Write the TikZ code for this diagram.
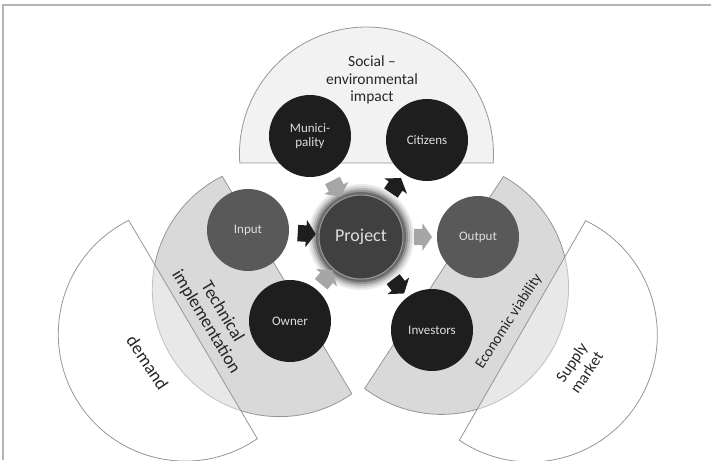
\documentclass[tikz,border=0pt]{standalone}
\usepackage{fontspec}
\setmainfont{Carlito}
\usepackage{tikz}
\usetikzlibrary{shapes.arrows, positioning, calc}
\definecolor{myframe}{RGB}{180,180,180}
\definecolor{myedge}{RGB}{150,150,150}
\definecolor{mydark}{RGB}{30,30,30}
\definecolor{mymid}{RGB}{89,89,89}
\definecolor{myproj}{RGB}{64,64,64}
\definecolor{mylight}{RGB}{222,222,222}
\definecolor{mytext}{RGB}{38,38,38}
\definecolor{hdrtop}{RGB}{242,242,242}
\definecolor{hdrgrey}{RGB}{217,217,217}
\definecolor{mygreyarrow}{RGB}{166,166,166}
\newcommand{\halfdisk}[4]{%
  \begin{scope}[shift={(#1,#2)}, rotate=#3]
    \draw[disk, #4] (126.7,0) arc[start angle=-4.06, end angle=184.06, radius=127] -- cycle;
  \end{scope}}
\newcommand{\shaft}{\rule{0pt}{16pt}}
\tikzset{
  disk/.style={draw=myedge, line width=0.8pt},
  actor/.style={circle, fill=mydark, minimum size=82pt, inner sep=0pt,
    text=mylight, align=center, font=\fontsize{13}{14}\selectfont},
  flow/.style={actor, fill=mymid},
  core/.style={circle, fill=myproj, draw=gray!80, line width=1pt, minimum size=84pt,
    inner sep=0pt, text=mylight, font=\fontsize{18}{20}\selectfont},
  blockarrow/.style={single arrow, fill=mydark, minimum width=27pt, minimum height=18pt,
    single arrow head extend=5.5pt, single arrow tip angle=110, inner sep=0pt, sloped},
  greyarrow/.style={blockarrow, fill=mygreyarrow},
  area/.style={text=mytext, align=center}
}

\begin{document}
\begin{tikzpicture}[x=1pt, y=-1pt]
  \useasboundingbox (0,0) rectangle (711,460);
  \draw[myframe, line width=1.3pt] (711,5) -- (3,5) -- (3,460);

  % the five half disks
  \halfdisk{366.5}{163}{180}{fill=hdrtop}
  \halfdisk{287}{285}{300.8}{fill=hdrgrey}
  \halfdisk{434}{282.5}{56.8}{fill=hdrgrey}
  \halfdisk{193}{329.5}{300.5}{fill=white, fill opacity=0.4}
  \halfdisk{522.5}{330.5}{60.1}{fill=white, fill opacity=0.4}

  % Project with its glow
  \coordinate (projc) at (361,237);
  \foreach \r/\g in {53/8, 51/16, 49/28, 47/42, 45/58}
    \fill[black!\g] (projc) circle (\r);
  \node[core] (project) at (projc) {Project};

  % circles round it
  \node[actor] (municipality) at (310,136) {Munici-\\pality};
  \node[actor] (citizens) at (427,140) {Citizens};
  \node[flow] (input) at (248,230) {Input};
  \node[flow] (output) at (478,237) {Output};
  \node[actor] (owner) at (290,321) {Owner};
  \node[actor] (investors) at (432,330) {Investors};

  % block arrows
  \path (input) -- node[blockarrow] {\shaft} (project);
  \path (project) -- node[greyarrow] {\shaft} (output);
  \path (municipality) -- node[greyarrow] {\shaft} (project);
  \path (project) -- node[blockarrow] {\shaft} (citizens);
  \path (owner) -- node[greyarrow] {\shaft} (project);
  \path (project) -- node[blockarrow] {\shaft} (investors);

  % area labels
  \node[area, font=\fontsize{15.5}{17.5}\selectfont] (social) at (372,80) {Social –\\environmental\\impact};
  \node[area, rotate=-59, font=\fontsize{18}{19}\selectfont] (technical) at (214,317) {Technical\\implementation};
  \node[area, rotate=57, font=\fontsize{15}{17}\selectfont] (economic) at (509,321.5) {Economic viability};
  \node[area, rotate=-56, font=\fontsize{18}{20}\selectfont] (demand) at (147.5,362.5) {demand};
  \node[area, rotate=56, font=\fontsize{16}{18}\selectfont] (supply) at (579,367.5) {Supply\\market};
\end{tikzpicture}
\end{document}
